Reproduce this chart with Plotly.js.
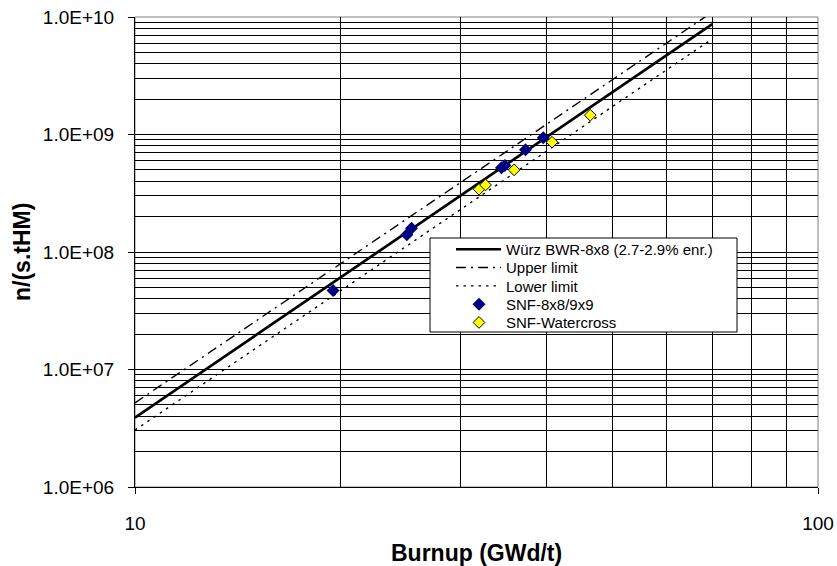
<!DOCTYPE html>
<html>
<head>
<meta charset="utf-8">
<script src="https://cdn.plot.ly/plotly-3.0.1.min.js"></script>
<style>
  html, body { margin: 0; padding: 0; background: #ffffff; }
  #chart { width: 837px; height: 566px; }
</style>
</head>
<body>
<div id="chart"></div>
<script>
// ---- data ----
const fitBurnup = [10, 70];
const wurzFit = [3.9e6, 8.7e9];
const upperLimit = [5.2e6, 1.1e10];
const lowerLimit = [3.05e6, 6.5e9];

const snf8x8Burnup = [19.5, 25.0, 25.4, 34.4, 34.8, 37.3, 39.6];
const snf8x8Rate = [4.7e7, 1.40e8, 1.59e8, 5.2e8, 5.45e8, 7.4e8, 9.4e8];

const watercrossBurnup = [31.9, 32.6, 35.9, 40.8, 46.4];
const watercrossRate = [3.42e8, 3.72e8, 5.0e8, 8.6e8, 1.46e9];

const xMajorTicks = [10, 100];
const xMajorLabels = ["10", "100"];
const xMinorTicks = [20, 30, 40, 50, 60, 70, 80, 90];
const yMajorTicks = [1e6, 1e7, 1e8, 1e9, 1e10];
const yMajorLabels = ["1.0E+06", "1.0E+07", "1.0E+08", "1.0E+09", "1.0E+10"];
const yMinorTicks = [];
[1e6, 1e7, 1e8, 1e9].forEach(d => { [2,3,4,5,6,7,8,9].forEach(m => yMinorTicks.push(d * m)); });

const seriesNames = ["Würz BWR-8x8 (2.7-2.9% enr.)", "Upper limit", "Lower limit", "SNF-8x8/9x9", "SNF-Watercross"];

const FONT = "Liberation Sans, Arial, sans-serif";

const traces = [
  { x: fitBurnup, y: wurzFit, name: seriesNames[0], mode: "lines",
    line: { color: "#000000", width: 2.7 } },
  { x: fitBurnup, y: upperLimit, name: seriesNames[1], mode: "lines",
    line: { color: "#000000", width: 1.4, dash: "10px,5px,2px,5px" } },
  { x: fitBurnup, y: lowerLimit, name: seriesNames[2], mode: "lines",
    line: { color: "#000000", width: 1.4, dash: "2.5px,5px" } },
  { x: snf8x8Burnup, y: snf8x8Rate, name: seriesNames[3], mode: "markers",
    marker: { symbol: "diamond", size: 10, color: "#000080", line: { width: 0 } } },
  { x: watercrossBurnup, y: watercrossRate, name: seriesNames[4], mode: "markers",
    marker: { symbol: "diamond", size: 9, color: "#FFFF00", line: { width: 1, color: "#000000" } } }
];

const L = 135, R = 818, T = 17, B = 487, W = 837, H = 566;
const px2x = p => (p - L) / (R - L);
const px2y = p => (B - p) / (B - T);

const layout = {
  width: W, height: H,
  margin: { l: L, r: W - R, t: T, b: H - B, pad: 0 },
  paper_bgcolor: "#ffffff",
  plot_bgcolor: "#ffffff",
  font: { family: FONT, color: "#000000", size: 19 },
  showlegend: true,
  legend: {
    x: px2x(452), y: px2y(233), xanchor: "left", yanchor: "top",
    bgcolor: "rgba(0,0,0,0)", borderwidth: 0,
    font: { family: FONT, size: 15, color: "#000000" },
    tracegroupgap: 0, itemwidth: 44
  },
  xaxis: {
    type: "log", range: [1, 2],
    tickmode: "array", tickvals: xMajorTicks, ticktext: xMajorLabels,
    ticks: "outside", ticklen: 6, tickcolor: "#000000", tickwidth: 1,
    ticklabelstandoff: 13,
    showgrid: true, gridcolor: "#000000", gridwidth: 1,
    minor: { tickmode: "array", tickvals: xMinorTicks, showgrid: true, gridcolor: "#000000", gridwidth: 1, ticks: "" },
    showline: true, linecolor: "#000000", linewidth: 1,
    zeroline: false, fixedrange: true,
    tickfont: { family: FONT, size: 19 }
  },
  yaxis: {
    type: "log", range: [6, 10],
    tickmode: "array", tickvals: yMajorTicks, ticktext: yMajorLabels,
    ticks: "outside", ticklen: 6, tickcolor: "#000000", tickwidth: 1,
    ticklabelstandoff: 10,
    showgrid: true, gridcolor: "#000000", gridwidth: 1,
    minor: { tickmode: "array", tickvals: yMinorTicks, showgrid: true, gridcolor: "#000000", gridwidth: 1, ticks: "" },
    showline: true, linecolor: "#000000", linewidth: 1,
    zeroline: false, fixedrange: true,
    tickfont: { family: FONT, size: 19 }
  },
  shapes: [
    { type: "rect", xref: "paper", yref: "paper", x0: 0, x1: 1, y0: 0, y1: 1,
      line: { color: "#808080", width: 1 }, fillcolor: "rgba(0,0,0,0)", layer: "below" },
    { type: "rect", xref: "paper", yref: "paper",
      x0: px2x(430), x1: px2x(737), y0: px2y(332), y1: px2y(238),
      line: { color: "#000000", width: 1 }, fillcolor: "#ffffff", layer: "above" }
  ],
  annotations: [
    { text: "<b>Burnup (GWd/t)</b>", xref: "paper", yref: "paper",
      x: 0.5, y: px2y(553), xanchor: "center", yanchor: "middle",
      showarrow: false, font: { family: FONT, size: 23, color: "#000000" } },
    { text: "<b>n/(s.tHM)</b>", xref: "paper", yref: "paper",
      x: px2x(22), y: 0.5, xanchor: "center", yanchor: "middle", textangle: -90,
      showarrow: false, font: { family: FONT, size: 23, color: "#000000" } }
  ]
};

Plotly.newPlot("chart", traces, layout, { displayModeBar: false, staticPlot: true }).then(gd => {
  // tighten legend rows to the reference spacing and lengthen the line samples
  const items = gd.querySelectorAll(".legend .traces");
  const rowGap = 18.3;
  let firstY = null;
  items.forEach((el, i) => {
    const m = /translate\(\s*([-\d.]+)[ ,]+([-\d.]+)\s*\)/.exec(el.getAttribute("transform") || "");
    if (!m) return;
    const x = parseFloat(m[1]);
    const y = parseFloat(m[2]);
    if (firstY === null) firstY = y;
    el.setAttribute("transform", "translate(" + x + "," + (firstY + i * rowGap) + ")");
  });
  gd.querySelectorAll(".legend .legendlines path").forEach(p => p.setAttribute("d", "M4,0h45"));
  gd.querySelectorAll(".legend .legendpoints path").forEach(p => p.setAttribute("transform", "translate(27,0)"));
});
</script>
</body>
</html>
